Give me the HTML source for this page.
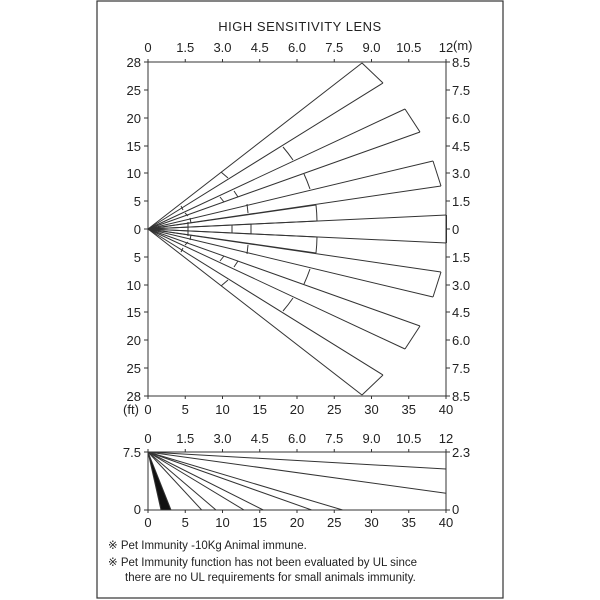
<!DOCTYPE html>
<html><head><meta charset="utf-8"><style>
body{margin:0;background:#fff;}
svg{display:block;font-family:"Liberation Sans",sans-serif;}
</style></head><body>
<svg id="s" width="600" height="600" xmlns="http://www.w3.org/2000/svg">
<rect x="97" y="1" width="406" height="597" fill="none" stroke="#333" stroke-width="1.2"/>
<text x="300" y="31" text-anchor="middle" font-size="13" fill="#222" letter-spacing="0.5">HIGH SENSITIVITY  LENS</text>
<g id="g" stroke="#333" stroke-width="1" fill="none"></g>
<g id="t" font-size="13" fill="#222"></g>
<g font-size="11.5" fill="#222">
<text x="108" y="549">※ Pet Immunity -10Kg Animal immune.</text>
<text x="108" y="566">※ Pet Immunity function has not been evaluated by UL since</text>
<text x="125" y="581">there are no UL  requirements  for  small animals immunity.</text>
</g>
</svg>
<script>
var g=document.getElementById('g'),t=document.getElementById('t'),NS='http://www.w3.org/2000/svg';
function L(a,b,c,d){var e=document.createElementNS(NS,'line');e.setAttribute('x1',a);e.setAttribute('y1',b);e.setAttribute('x2',c);e.setAttribute('y2',d);g.appendChild(e);}
function P(d,f){var e=document.createElementNS(NS,'path');e.setAttribute('d',d);if(f){e.setAttribute('fill',f);}g.appendChild(e);}
function T(x,y,s,a){var e=document.createElementNS(NS,'text');e.setAttribute('x',x);e.setAttribute('y',y);e.setAttribute('text-anchor',a||'middle');e.textContent=s;t.appendChild(e);}
var X0=148,X1=446,Y0=62,Y1=396,C=229;
L(X0,Y0,X1,Y0);L(X0,Y1,X1,Y1);L(X0,Y0,X0,Y1);L(X1,Y0,X1,Y1);
var m=['0','1.5','3.0','4.5','6.0','7.5','9.0','10.5','12'];
for(var i=0;i<9;i++){var x=X0+i*(X1-X0)/8;L(x,Y0,x,Y0-3);T(x,52,m[i]);}
T(453,50,'(m)','start');
var f=['0','5','10','15','20','25','30','35','40'];
for(var i=0;i<9;i++){var x=X0+i*(X1-X0)/8;L(x,Y1,x,Y1+3);T(x,414,f[i]);}
T(131,414,'(ft)','middle');
var ly=[62,90,118,146,173,201,229,257,285,312,340,368,396];
var ll=['28','25','20','15','10','5','0','5','10','15','20','25','28'];
var rl=['8.5','7.5','6.0','4.5','3.0','1.5','0','1.5','3.0','4.5','6.0','7.5','8.5'];
for(var i=0;i<13;i++){L(X0,ly[i],X0-4,ly[i]);L(X1,ly[i],X1+4,ly[i]);T(141,ly[i]+5,ll[i],'end');T(452,ly[i]+5,rl[i],'start');}
var O=[148,229];
function arcP(x1,y1,x2,y2){var r=Math.hypot(x1-O[0],y1-O[1]);var sw=(y1<y2)?1:0;return 'M'+x1+' '+y1+' A'+r+' '+r+' 0 0 '+sw+' '+x2+' '+y2;}
function beam(a,b,sign,cuts,arc,short){
 function y(v){return C+sign*(v-C);}
 L(O[0],O[1],a[0],y(a[1]));L(O[0],O[1],b[0],y(b[1]));
 if(short){P(arcP(a[0],y(a[1]),b[0],y(b[1])));}
 else L(a[0],y(a[1]),b[0],y(b[1]));
 cuts.forEach(function(c){L(c[0],y(c[1]),c[2],y(c[3]));});
 if(arc){P(arcP(arc[0],y(arc[1]),arc[2],y(arc[3])));}
}
[1,-1].forEach(function(s){
 beam([362,63],[383,83],s,[[221,172,228,178],[181,206,183,210]],null);
 beam([405,109],[420,132],s,[[185,213,188,216]],[283,147,293,160]);
 beam([433,161],[441,186],s,[[220,197,224,202],[234,191,238,197]],[304,174,310,189]);
 beam([316,205],[317,221],s,[[247,204,248,213],[190,218,191,223]],null,true);
});
beam([446.5,215],[446.5,243],1,[[232,225,232,233],[251,224,251,234],[188,222,188,236]],null);
var B0=452,B1=510;
L(X0,B0,X1,B0);L(X0,B1,X1,B1);L(X0,B0,X0,B1);L(X1,B0,X1,B1);
for(var i=0;i<9;i++){var x=X0+i*(X1-X0)/8;L(x,B0,x,B0-3);T(x,443,m[i]);L(x,B1,x,B1+3);T(x,527,f[i]);}
L(X0,B0,X0-4,B0);L(X0,B1,X0-4,B1);L(X1,B0,X1+4,B0);L(X1,B1,X1+4,B1);
T(141,457,'7.5','end');T(141,514,'0','end');T(452,457,'2.3','start');T(452,514,'0','start');
[201.7,216,244,263.3,311.7,342.7].forEach(function(x){L(X0,B0,x,B1);});
L(X0,B0,X1,469);L(X0,B0,X1,493.3);
P('M148 452 L161 510 L171 510 Z','#111');
</script>
</body></html>
